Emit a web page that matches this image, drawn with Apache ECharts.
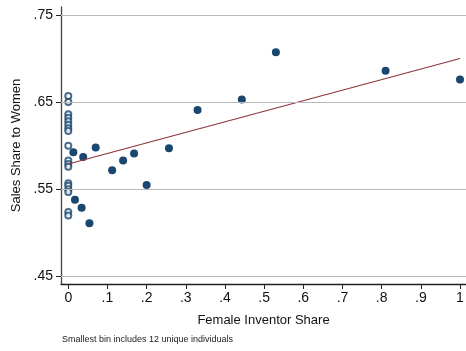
<!DOCTYPE html>
<html>
<head>
<meta charset="utf-8">
<script src="https://cdn.jsdelivr.net/npm/echarts@6/dist/echarts.min.js"></script>
<style>
  html, body { margin: 0; padding: 0; background: #fff; }
  #chart { width: 466px; height: 351px; }
</style>
</head>
<body>
<div id="chart"></div>
<script>
// Binned means: female inventor share vs. sales share to women
const binShare = [0.013, 0.038, 0.017, 0.034, 0.054, 0.070, 0.112, 0.140, 0.168, 0.200, 0.257, 0.330, 0.443, 0.530, 0.810, 1.000];
const binSales = [0.5925, 0.587, 0.538, 0.529, 0.511, 0.598, 0.572, 0.583, 0.591, 0.555, 0.597, 0.641, 0.653, 0.707, 0.686, 0.676];

// Bins with no female inventors (hollow markers at zero)
const zeroSales = [0.657, 0.650, 0.636, 0.632, 0.628, 0.624, 0.620, 0.617, 0.600, 0.583, 0.579, 0.576, 0.557, 0.554, 0.550, 0.547, 0.524, 0.520];

// Linear fit endpoints
const fitX = [0, 1];
const fitY = [0.579, 0.700];

// Tick positions and labels
const xTicks = [0, 0.1, 0.2, 0.3, 0.4, 0.5, 0.6, 0.7, 0.8, 0.9, 1];
const xTickLabels = ['0', '.1', '.2', '.3', '.4', '.5', '.6', '.7', '.8', '.9', '1'];
const yTicks = [0.45, 0.55, 0.65, 0.75];
const yTickLabels = ['.45', '.55', '.65', '.75'];

const FONT = '"Liberation Sans", Arial, sans-serif';
const NAVY = '#1a476f';
const MAROON = '#90353b';

const chart = echarts.init(document.getElementById('chart'), null, { renderer: 'canvas' });

const fmt = (ticks, labels) => v => {
  const i = ticks.findIndex(t => Math.abs(t - v) < 1e-6);
  return i >= 0 ? labels[i] : '';
};

chart.setOption({
  animation: false,
  backgroundColor: '#fff',
  title: {
    text: 'Smallest bin includes 12 unique individuals',
    left: 62,
    top: 335,
    padding: 0,
    textStyle: { fontFamily: FONT, fontSize: 9, fontWeight: 'normal', color: '#222' }
  },
  grid: { left: 61, right: 0, top: 7, bottom: 67, containLabel: false, outerBoundsMode: 'none' },
  xAxis: {
    type: 'value',
    min: -0.0186,
    max: 1.0153,
    name: 'Female Inventor Share',
    nameLocation: 'middle',
    nameGap: 30,
    nameTextStyle: { fontFamily: FONT, fontSize: 13, color: '#111' },
    axisLine: { show: true, onZero: false, lineStyle: { color: '#222', width: 1.3 } },
    axisTick: { show: true, length: 5, customValues: xTicks, lineStyle: { color: '#222' } },
    axisLabel: {
      customValues: xTicks,
      formatter: fmt(xTicks, xTickLabels),
      fontFamily: FONT, fontSize: 14, color: '#111', margin: 7
    },
    splitLine: { show: false }
  },
  yAxis: {
    type: 'value',
    min: 0.4415,
    max: 0.759,
    name: 'Sales Share to Women',
    nameLocation: 'middle',
    nameGap: 38,
    nameRotate: 90,
    nameTextStyle: { fontFamily: FONT, fontSize: 13, color: '#111' },
    axisLine: { show: true, onZero: false, lineStyle: { color: '#444', width: 1.3 } },
    axisTick: { show: true, length: 5, customValues: yTicks, lineStyle: { color: '#222' } },
    axisLabel: {
      customValues: yTicks,
      formatter: fmt(yTicks, yTickLabels),
      fontFamily: FONT, fontSize: 14, color: '#111', margin: 8
    },
    splitLine: { show: false }
  },
  series: [
    {
      // horizontal reference lines at the labelled ticks
      type: 'line',
      data: [],
      silent: true,
      z: 1,
      markLine: {
        silent: true,
        symbol: 'none',
        label: { show: false },
        lineStyle: { color: '#b8b8b8', width: 1, type: 'solid' },
        data: yTicks.map(v => ({ yAxis: v }))
      }
    },
    {
      name: 'zero share',
      type: 'scatter',
      z: 2,
      data: zeroSales.map(v => [0, v]),
      symbol: 'emptyCircle',
      symbolSize: 6,
      itemStyle: { color: NAVY, borderColor: NAVY, borderWidth: 1 }
    },
    {
      name: 'binned',
      type: 'scatter',
      z: 3,
      data: binShare.map((x, i) => [x, binSales[i]]),
      symbol: 'circle',
      symbolSize: 8,
      itemStyle: { color: NAVY, opacity: 1 }
    },
    {
      name: 'fit',
      type: 'line',
      z: 4,
      data: fitX.map((x, i) => [x, fitY[i]]),
      symbol: 'none',
      lineStyle: { color: MAROON, width: 1.2 }
    }
  ]
});
</script>
</body>
</html>
